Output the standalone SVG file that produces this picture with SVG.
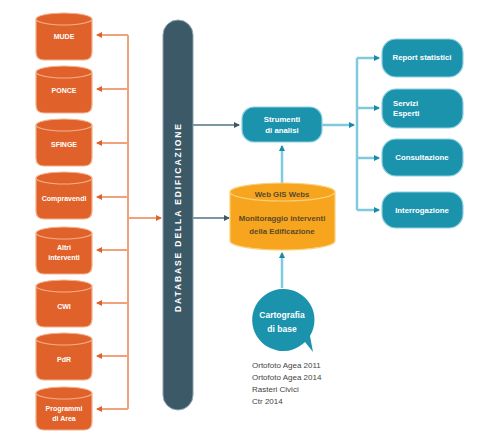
<svg xmlns="http://www.w3.org/2000/svg" width="490" height="432" viewBox="0 0 490 432">
<style>
.cyl{fill:#e0622a;stroke:#f3b08c;stroke-width:1.2}
.cylTop{fill:none;stroke:#f3b08c;stroke-width:1.2}
.lbl{font-family:"Liberation Sans",Arial,sans-serif;font-weight:bold;font-size:7px;fill:#ffffff;text-anchor:middle}
.rl{font-size:7.8px}
.or{stroke:#f0a27a;stroke-width:2;fill:none}
.tl{stroke:#7fcbdc;stroke-width:2.5;fill:none}
.sl{stroke:#7b97a2;stroke-width:2;fill:none}
.box{fill:#1b93ad;stroke:#8fd0df;stroke-width:1.2}
.dark{font-family:"Liberation Sans",Arial,sans-serif;font-weight:bold;font-size:7.8px;fill:#5a4a2a;text-anchor:middle}
.small{font-family:"Liberation Sans",Arial,sans-serif;font-size:8px;fill:#444444}
</style>
<defs>
<marker id="ao" markerWidth="6" markerHeight="6" refX="5" refY="3" orient="auto" markerUnits="userSpaceOnUse"><path d="M0,0 L6,3 L0,6 Z" fill="#e0622a"/></marker>
<marker id="at" markerWidth="6" markerHeight="6" refX="5" refY="3" orient="auto" markerUnits="userSpaceOnUse"><path d="M0,0 L6,3 L0,6 Z" fill="#1b8aa5"/></marker>
<marker id="as" markerWidth="6" markerHeight="6" refX="5" refY="3" orient="auto" markerUnits="userSpaceOnUse"><path d="M0,0 L6,3 L0,6 Z" fill="#3b5967"/></marker>
</defs>

<g id="connectors">
<path class="or" d="M128,35 V409"/>
<path class="or" d="M128,35 H97" marker-end="url(#ao)"/>
<path class="or" d="M128,89 H97" marker-end="url(#ao)"/>
<path class="or" d="M128,143 H97" marker-end="url(#ao)"/>
<path class="or" d="M128,197 H97" marker-end="url(#ao)"/>
<path class="or" d="M128,250 H97" marker-end="url(#ao)"/>
<path class="or" d="M128,303 H97" marker-end="url(#ao)"/>
<path class="or" d="M128,356 H97" marker-end="url(#ao)"/>
<path class="or" d="M128,409 H97" marker-end="url(#ao)"/>
<path class="or" d="M128,218 H161" marker-end="url(#ao)"/>
<path class="sl" d="M193,125 H239" marker-end="url(#as)"/>
<path class="sl" d="M193,218 H229" marker-end="url(#as)"/>
<path class="tl" d="M282,183 V146" marker-end="url(#at)"/>
<path class="tl" d="M282,288 V253" marker-end="url(#at)"/>
<path class="tl" d="M322,125 H354" marker-end="url(#at)"/>
<path class="tl" d="M357,58 V210"/>
<path class="tl" d="M357,58 H379" marker-end="url(#at)"/>
<path class="tl" d="M357,108 H379" marker-end="url(#at)"/>
<path class="tl" d="M357,158 H379" marker-end="url(#at)"/>
<path class="tl" d="M357,210 H379" marker-end="url(#at)"/>
</g>

<g id="mude"><path class="cyl" d="M36,19 A28,6 0 0 1 92,19 V52 Q92,60 84,60 H44 Q36,60 36,52 Z"/><path class="cylTop" d="M36,19 A28,6 0 0 0 92,19"/><text class="lbl" x="64" y="39">MUDE</text></g>
<g id="ponce"><path class="cyl" d="M36,72 A28,6 0 0 1 92,72 V105 Q92,113 84,113 H44 Q36,113 36,105 Z"/><path class="cylTop" d="M36,72 A28,6 0 0 0 92,72"/><text class="lbl" x="64" y="93">PONCE</text></g>
<g id="sfinge"><path class="cyl" d="M36,125 A28,6 0 0 1 92,125 V158 Q92,166 84,166 H44 Q36,166 36,158 Z"/><path class="cylTop" d="M36,125 A28,6 0 0 0 92,125"/><text class="lbl" x="64" y="147">SFINGE</text></g>
<g id="compravendite"><path class="cyl" d="M36,178 A28,6 0 0 1 92,178 V211 Q92,219 84,219 H44 Q36,219 36,211 Z"/><path class="cylTop" d="M36,178 A28,6 0 0 0 92,178"/><text class="lbl" x="64" y="201">Compravendi</text></g>
<g id="altri"><path class="cyl" d="M36,233 A28,6 0 0 1 92,233 V266 Q92,274 84,274 H44 Q36,274 36,266 Z"/><path class="cylTop" d="M36,233 A28,6 0 0 0 92,233"/><text class="lbl" x="64" y="250">Altri</text><text class="lbl" x="64" y="260">interventi</text></g>
<g id="cwi"><path class="cyl" d="M36,286 A28,6 0 0 1 92,286 V319 Q92,327 84,327 H44 Q36,327 36,319 Z"/><path class="cylTop" d="M36,286 A28,6 0 0 0 92,286"/><text class="lbl" x="64" y="309">CWI</text></g>
<g id="pdr"><path class="cyl" d="M36,339 A28,6 0 0 1 92,339 V372 Q92,380 84,380 H44 Q36,380 36,372 Z"/><path class="cylTop" d="M36,339 A28,6 0 0 0 92,339"/><text class="lbl" x="64" y="362">PdR</text></g>
<g id="programmi"><path class="cyl" d="M36,393 A28,6 0 0 1 92,393 V422 Q92,430 84,430 H44 Q36,430 36,422 Z"/><path class="cylTop" d="M36,393 A28,6 0 0 0 92,393"/><text class="lbl" x="64" y="411">Programmi</text><text class="lbl" x="64" y="421">di Area</text></g>

<g id="database">
<rect x="163" y="20" width="30" height="390" rx="15" fill="#3b5967" stroke="#8aa3ad" stroke-width="1"/>
<text class="lbl" transform="translate(181,218) rotate(-90)" textLength="188" lengthAdjust="spacing" style="font-size:8.5px">DATABASE DELLA EDIFICAZIONE</text>
</g>

<g id="strumenti">
<rect class="box" x="242" y="107" width="80" height="35" rx="12"/>
<text class="lbl rl" x="282" y="122">Strumenti</text><text class="lbl rl" x="282" y="133">di analisi</text>
</g>

<g id="webgis">
<path d="M230,192 A52.5,9 0 0 1 335,192 V241 A52.5,9 0 0 1 230,241 Z" fill="#f7a51e" stroke="#fbd07a" stroke-width="1.2"/>
<path d="M230,192 A52.5,9 0 0 0 335,192" fill="none" stroke="#fbd07a" stroke-width="1.2"/>
<text class="dark" x="282" y="197">Web GIS Webs</text>
<text class="dark" x="282" y="221">Monitoraggio interventi</text>
<text class="dark" x="282" y="234">della Edificazione</text>
</g>

<g id="cartografia">
<path d="M282,289 A31,31 0 1 0 305,342 L313,352 L310,336 A31,31 0 0 0 282,289 Z" fill="#1b93ad"/>
<text class="lbl" x="282" y="318" style="font-size:8.5px">Cartografia</text><text class="lbl" x="282" y="332" style="font-size:8.5px">di base</text>
<text class="small" x="252" y="368">Ortofoto Agea 2011</text>
<text class="small" x="252" y="380">Ortofoto Agea 2014</text>
<text class="small" x="252" y="392">Rasteri Civici</text>
<text class="small" x="252" y="404">Ctr 2014</text>
</g>

<g id="report"><rect class="box" x="382" y="39" width="81" height="38" rx="14"/><text class="lbl rl" x="422" y="60">Report statistici</text></g>
<g id="servizi"><rect class="box" x="382" y="89" width="81" height="39" rx="14"/><text class="lbl rl" x="393" y="106" style="text-anchor:start">Servizi</text><text class="lbl rl" x="393" y="116" style="text-anchor:start">Esperti</text></g>
<g id="consultazione"><rect class="box" x="382" y="139" width="81" height="37" rx="14"/><text class="lbl rl" x="422" y="160">Consultazione</text></g>
<g id="interrogazione"><rect class="box" x="382" y="192" width="81" height="36" rx="14"/><text class="lbl rl" x="422" y="213">Interrogazione</text></g>
</svg>
